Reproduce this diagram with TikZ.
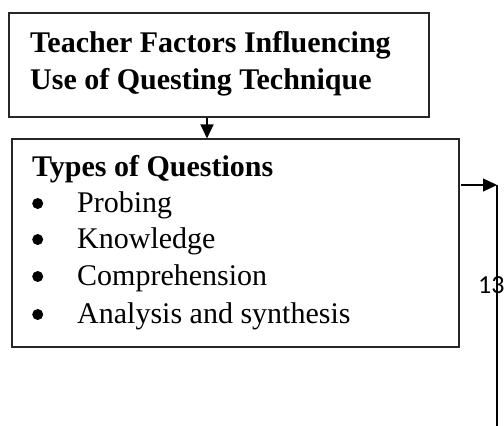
\documentclass[tikz,border=0pt]{standalone}
\usepackage{fontspec}
\setmainfont{Liberation Serif}
\newfontfamily\pagenofont{Carlito}
\usetikzlibrary{arrows.meta}
\begin{document}
\begin{tikzpicture}[x=1pt,y=-1pt,
  frame/.style={draw=black!85,line width=1.1pt,inner sep=0pt,minimum width=#1},
  txt/.style={anchor=base west,inner sep=0pt,font=\fontsize{30}{37}\selectfont},
  head/.style={txt,font=\fontsize{30}{37}\selectfont\bfseries},
  dot/.style={circle,fill=black,inner sep=0pt,minimum size=11pt},
  arr/.style={line width=1.3pt,-{Triangle[length=14pt,width=13pt]}}]
\useasboundingbox (0,0) rectangle (504,426);
% boxes
\node[frame=420pt,minimum height=104pt] (box1) at (219,65) {};
\node[frame=447pt,minimum height=208pt] (box2) at (235.5,243) {};
% box 1 text
\node[head] (t1) at (30,52) {Teacher Factors Influencing};
\node[head] (t2) at (30,89) {Use of Questing Technique};
% box 2 text
\node[head] (h2) at (32,176) {Types of Questions};
\foreach \y/\lab/\nm in {212/Probing/i1,248/Knowledge/i2,285/Comprehension/i3,323/Analysis and synthesis/i4}{
  \node[dot] (b\nm) at (37.7,\y-8.5) {};
  \node[txt] (\nm) at (77,\y) {\lab};
}
% connectors
\coordinate (ax) at (207,0);
\draw[arr] (box1.south -| ax) -- (box2.north -| ax);
\coordinate (rs) at (461,185);
\coordinate (rt) at (497,185);
\coordinate (rb) at (497,426);
\draw[arr] (rs) -- (rt);
\draw[line width=1.3pt] (rt) -- (rb);
% page number
\node[anchor=base west,inner sep=0pt,font=\pagenofont\fontsize{26}{30}\selectfont] (pg) at (478,293) {13};
\end{tikzpicture}
\end{document}
